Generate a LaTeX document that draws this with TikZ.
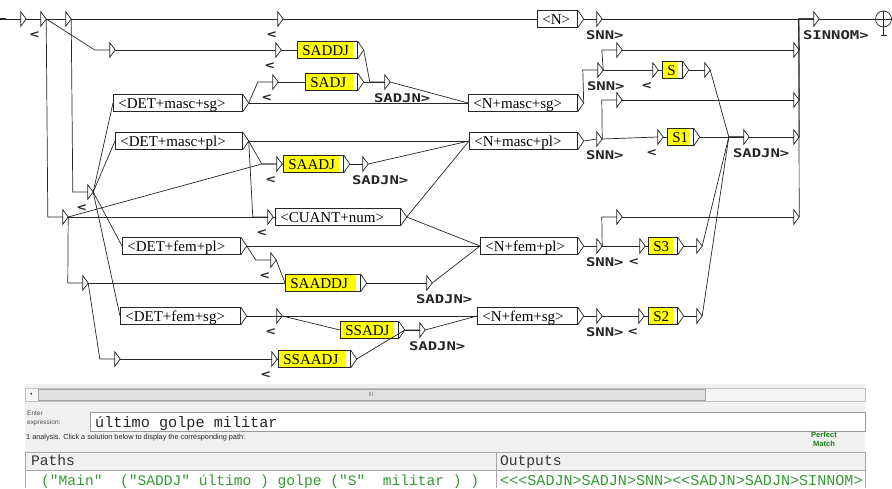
\documentclass[tikz,border=0pt]{standalone}
\usepackage{fontspec}
\setmainfont{Liberation Serif}
\newfontfamily\outfont{DejaVu Sans Mono}[FakeStretch=1.3]
\newfontfamily\monofont{Liberation Mono}
\newfontfamily\uifont{Liberation Sans}
\newfontfamily\symfont{DejaVu Sans}
\usetikzlibrary{calc}
\definecolor{gyellow}{RGB}{255,255,0}
\definecolor{pathgreen}{RGB}{50,155,50}
\definecolor{matchgreen}{RGB}{30,125,30}
\definecolor{panelgray}{RGB}{240,240,240}

\begin{document}
\begin{tikzpicture}[x=1pt, y=-1pt,
  wire/.style={line width=0.7pt, draw=black!85},
  epsnode/.style={minimum width=5pt, minimum height=14pt, inner sep=0pt},
  tbox/.style={draw=black!85, line width=0.7pt, fill=white, anchor=west,
    inner xsep=5pt, inner ysep=0pt, minimum height=17pt,
    text height=10pt, text depth=0pt, text width=#1pt, align=left,
    font=\fontsize{15}{15}\selectfont},
  sbox/.style={tbox=#1, fill=gyellow, path picture={\fill[white]
    ([xshift=-4pt]path picture bounding box.north east) rectangle
    (path picture bounding box.south east);}},
  outlab/.style={anchor=west, inner sep=0pt, text=black!85,
    font=\outfont\bfseries\fontsize{12}{12}\selectfont},
  stub/.style={to path={-- ([xshift=-15pt]\tikztotarget) -- (\tikztotarget)}},
  ui/.style={inner sep=0pt, anchor=base west, font=\uifont\fontsize{7.3}{8}\selectfont},
  mono/.style={inner sep=0pt, anchor=base west, font=\monofont\fontsize{14.6}{15}\selectfont}
]

% Empty transition (triangle), box tip, box output
\def\epsbox#1#2#3{\node[epsnode] (#1) at ({#2+2.5},#3) {};
  \draw[wire] (#1.north west) -- (#1.east) -- (#1.south west) -- cycle;}
\def\boxtip#1{\draw[wire] (#1.north east) -- ($(#1.east)+(6,0)$) coordinate (#1-o) -- (#1.south east);}
\def\outp#1#2{\node[outlab] (#1-lab) at ($(#1.west)+(-11,16)$) {#2};}

\useasboundingbox (0,0) rectangle (892,488);
\fill[white] (0,0) rectangle (892,488);

% Initial and final states
\coordinate (start) at (0,19);
\draw[line width=1.6pt, black!85] (start) -- (6,19);
\node[circle, draw=black!85, line width=0.7pt, minimum size=16pt, inner sep=0pt] (fin) at (883.5,19) {};
\draw[wire] (fin.north) -- ($(fin.south)+(0,8)$) coordinate (fin-foot);
\draw[wire] (fin.west) -- (fin.east);
\draw[wire] ($(fin-foot)+(-3,0)$) -- ($(fin-foot)+(3,0)$);

% Triangles
\epsbox{t1}{21}{19}
\epsbox{t2}{41}{19}
\epsbox{t3}{66}{19}
\epsbox{t4}{278}{19}
\epsbox{tSNN1}{597}{19}
\epsbox{tSIN}{814}{19}
\epsbox{t5}{110}{50}
\epsbox{t6}{276}{50}
\epsbox{tR1}{617}{50}
\epsbox{tRa}{794}{50}
\epsbox{t7}{273}{82}
\epsbox{tSADJN1}{385}{82}
\epsbox{tSNN2}{598}{70}
\epsbox{tSin}{653}{70}
\epsbox{tSout}{705}{70}
\epsbox{tR2}{617}{100}
\epsbox{tRb}{794}{100}
\epsbox{tSNN3}{597}{139}
\epsbox{tSonein}{658}{137}
\epsbox{tSADJN4}{744}{137}
\epsbox{tRc}{794}{137}
\epsbox{t8}{277}{164}
\epsbox{tSADJN2}{363}{164}
\epsbox{tL1}{88}{192}
\epsbox{tL2}{63}{217}
\epsbox{t9}{268}{217}
\epsbox{tR3}{617}{217}
\epsbox{tRd}{794}{217}
\epsbox{tSNN4}{597}{246}
\epsbox{tSthreein}{640}{246}
\epsbox{tSthreeout}{697}{246}
\epsbox{t10}{271}{260}
\epsbox{tL3}{83}{283}
\epsbox{tSADJN3}{427}{283}
\epsbox{t11}{277}{316}
\epsbox{tSADJN5}{420}{330}
\epsbox{tSNN5}{597}{316}
\epsbox{tStwoin}{639}{316}
\epsbox{tStwoout}{697}{316}
\epsbox{tL4}{115}{359}
\epsbox{t12}{272}{359}

% Boxes
\node[tbox=30] (N) at (537,19) {<N>};
\node[sbox=50] (SADDJ) at (297,50) {SADDJ};
\node[sbox=42] (SADJ) at (305,82) {SADJ};
\node[tbox=119] (DETms) at (113,103) {<DET+masc+sg>};
\node[tbox=99] (Nms) at (468,103) {<N+masc+sg>};
\node[tbox=117] (DETmp) at (115,141) {<DET+masc+pl>};
\node[tbox=98] (Nmp) at (469,141) {<N+masc+pl>};
\node[sbox=50] (SAADJ) at (283,164) {SAADJ};
\node[tbox=115] (CUANT) at (275,217) {<CUANT+num>};
\node[tbox=108] (DETfp) at (122,246) {<DET+fem+pl>};
\node[tbox=87] (Nfp) at (480,246) {<N+fem+pl>};
\node[sbox=65] (SAADDJ) at (285,283) {SAADDJ};
\node[tbox=110] (DETfs) at (120,316) {<DET+fem+sg>};
\node[sbox=48] (SSADJ) at (340,330) {SSADJ};
\node[tbox=90] (Nfs) at (477,316) {<N+fem+sg>};
\node[sbox=62] (SSAADJ) at (278,359) {SSAADJ};
\node[sbox=10] (S) at (662,70) {S};
\node[sbox=16] (Sone) at (667,137) {S1};
\node[sbox=19] (Sthree) at (648,246) {S3};
\node[sbox=19] (Stwo) at (648,316) {S2};
\boxtip{N} \boxtip{SADDJ} \boxtip{SADJ} \boxtip{DETms} \boxtip{Nms}
\boxtip{DETmp} \boxtip{Nmp} \boxtip{SAADJ} \boxtip{CUANT} \boxtip{DETfp}
\boxtip{Nfp} \boxtip{SAADDJ} \boxtip{DETfs} \boxtip{SSADJ} \boxtip{Nfs}
\boxtip{SSAADJ} \boxtip{S} \boxtip{Sone} \boxtip{Sthree} \boxtip{Stwo}

% Outputs
\outp{t2}{<} \outp{t4}{<} \outp{tSNN1}{SNN>} \outp{tSIN}{SINNOM>}
\outp{t6}{<} \outp{t7}{<} \outp{tSADJN1}{SADJN>}
\outp{tSNN2}{SNN>} \outp{tSin}{<}
\outp{tSNN3}{SNN>} \outp{tSonein}{<} \outp{tSADJN4}{SADJN>}
\outp{t8}{<} \outp{tSADJN2}{SADJN>} \outp{tL1}{<} \outp{t9}{<}
\outp{tSNN4}{SNN>} \outp{tSthreein}{<} \outp{t10}{<} \outp{tSADJN3}{SADJN>}
\outp{t11}{<} \outp{tSADJN5}{SADJN>} \outp{tSNN5}{SNN>} \outp{tStwoin}{<}
\outp{t12}{<}

% Top row
\draw[wire] (start) -- (t1.west);
\draw[wire] (t1.east) -- (t2.west);
\draw[wire] (t2.east) -- (t3.west);
\draw[wire] (t2.east) to[stub] (t5.west);
\draw[wire] (t2.east) to[stub] (tL2.west);
\draw[wire] (t3.east) -- (t4.west);
\draw[wire] (t3.east) to[stub] (tL1.west);
\draw[wire] (t4.east) -- (N.west);
\draw[wire] (N-o) -- (tSNN1.west);
\draw[wire] (tSNN1.east) -- (tSIN.west);
\draw[wire] (tSIN.east) -- (fin.west);

% Masculine singular
\draw[wire] (t5.east) -- (t6.west);
\draw[wire] (t6.east) -- (SADDJ.west);
\draw[wire] (SADDJ-o) to[stub] (tSADJN1.west);
\draw[wire] (t7.east) -- (SADJ.west);
\draw[wire] (SADJ-o) -- (tSADJN1.west);
\draw[wire] (DETms-o) to[stub] (t7.west);
\draw[wire] (DETms-o) -- (Nms.west);
\draw[wire] (tSADJN1.east) -- (Nms.west);
\draw[wire] (Nms-o) to[stub] (tSNN2.west);
\draw[wire] (tSNN2.east) to[stub] (tR1.west);
\draw[wire] (tSNN2.east) -- (tSin.west);
\draw[wire] (tSin.east) -- (S.west);
\draw[wire] (S-o) -- (tSout.west);
\draw[wire] (tSout.east) to[stub] (tSADJN4.west);
\draw[wire] (tR1.east) -- (tRa.west);
\draw[wire] (tRa.east) to[stub] (tSIN.west);

% Masculine plural
\draw[wire] (DETmp-o) -- (Nmp.west);
\draw[wire] (DETmp-o) to[stub] (t8.west);
\draw[wire] (DETmp-o) to[stub] (t9.west);
\draw[wire] (t8.east) -- (SAADJ.west);
\draw[wire] (SAADJ-o) -- (tSADJN2.west);
\draw[wire] (tSADJN2.east) -- (Nmp.west);
\draw[wire] (Nmp-o) -- (tSNN3.west);
\draw[wire] (tSNN3.east) to[stub] (tR2.west);
\draw[wire] (tSNN3.east) -- (tSonein.west);
\draw[wire] (tSonein.east) -- (Sone.west);
\draw[wire] (Sone-o) -- (tSADJN4.west);
\draw[wire] (tSADJN4.east) -- (tRc.west);
\draw[wire] (tRc.east) to[stub] (tSIN.west);
\draw[wire] (tR2.east) -- (tRb.west);
\draw[wire] (tRb.east) to[stub] (tSIN.west);

% Left fan
\draw[wire] (tL1.east) -- (DETms.west);
\draw[wire] (tL1.east) -- (DETmp.west);
\draw[wire] (tL1.east) -- (DETfp.west);
\draw[wire] (tL1.east) -- (DETfs.west);
\draw[wire] (tL2.east) to[stub] (t8.west);
\draw[wire] (tL2.east) -- (t9.west);
\draw[wire] (tL2.east) to[stub] (tL3.west);
\draw[wire] (tL3.east) -- (SAADDJ.west);
\draw[wire] (tL3.east) to[stub] (tL4.west);

% Quantifier and feminine plural
\draw[wire] (t9.east) -- (CUANT.west);
\draw[wire] (CUANT-o) -- (Nmp.west);
\draw[wire] (CUANT-o) -- (Nfp.west);
\draw[wire] (DETfp-o) -- (Nfp.west);
\draw[wire] (DETfp-o) to[stub] (t10.west);
\draw[wire] (t10.east) -- (SAADDJ.west);
\draw[wire] (SAADDJ-o) -- (tSADJN3.west);
\draw[wire] (tSADJN3.east) -- (Nfp.west);
\draw[wire] (Nfp-o) -- (tSNN4.west);
\draw[wire] (tSNN4.east) to[stub] (tR3.west);
\draw[wire] (tR3.east) -- (tRd.west);
\draw[wire] (tRd.east) to[stub] (tSIN.west);
\draw[wire] (tSNN4.east) -- (tSthreein.west);
\draw[wire] (tSthreein.east) -- (Sthree.west);
\draw[wire] (Sthree-o) -- (tSthreeout.west);
\draw[wire] (tSthreeout.east) to[stub] (tSADJN4.west);

% Feminine singular
\draw[wire] (DETfs-o) -- (Nfs.west);
\draw[wire] (DETfs-o) -- (t11.west);
\draw[wire] (t11.east) -- (SSADJ.west);
\draw[wire] (SSADJ-o) -- (tSADJN5.west);
\draw[wire] (tSADJN5.east) -- (Nfs.west);
\draw[wire] (tL4.east) -- (t12.west);
\draw[wire] (t12.east) -- (SSAADJ.west);
\draw[wire] (SSAADJ-o) to[stub] (tSADJN5.west);
\draw[wire] (Nfs-o) -- (tSNN5.west);
\draw[wire] (tSNN5.east) -- (tStwoin.west);
\draw[wire] (tStwoin.east) -- (Stwo.west);
\draw[wire] (Stwo-o) -- (tStwoout.west);
\draw[wire] (tStwoout.east) to[stub] (tSADJN4.west);

% Debug panel
\fill[panelgray] (25,384) rectangle (865,488);
\draw[black!25, fill=black!4] (25,388) rectangle (865,401);
\draw[black!35, fill=black!12] (38,389) rectangle (705,400);
\node[inner sep=0pt, font=\symfont\fontsize{5}{5}\selectfont, text=black!70] (scrollleft) at (31,394.5) {◂};
\node[inner sep=0pt, font=\uifont\fontsize{6}{6}\selectfont, text=black!50] (grip) at (371,394.5) {III};
\node[ui, text=black!70, font=\uifont\fontsize{6.5}{8}\selectfont] (enter) at (27,415) {Enter};
\node[ui, text=black!70, font=\uifont\fontsize{6.5}{8}\selectfont] (expression) at (27,424) {expression:};
\draw[black!40, fill=white] (90,412) rectangle (865,431);
\node[mono, text=black!85, font=\monofont\fontsize{15.2}{15}\selectfont] (expr) at (95,427) {último golpe militar};
\node[ui, text=black!85] (info) at (26,439.5) {1 analysis. Click a solution below to display the corresponding path:};
\node[inner sep=0pt, align=center, text=matchgreen, font=\uifont\bfseries\fontsize{7.6}{8.6}\selectfont] (match) at (824,439) {Perfect\\Match};
\fill[white] (25,470) rectangle (865,488);
\draw[black!35] (25,452) -- (865,452) (25,470) -- (865,470) (496,452) -- (496,488)
  (25,452) -- (25,488) (865,452) -- (865,488);
\node[mono, text=black!80] (paths) at (31,465.5) {Paths};
\node[mono, text=black!80] (outputs) at (500,465.5) {Outputs};
\node[mono, text=pathgreen] (pathrow) at (41,485) {("Main"~~("SADDJ"~último~)~golpe~("S"~~militar~)~)};
\node[mono, text=pathgreen, font=\monofont\fontsize{15.1}{15}\selectfont] (outrow) at (500,485) {<<<SADJN>SADJN>SNN><<SADJN>SADJN>SINNOM>};

\end{tikzpicture}
\end{document}
